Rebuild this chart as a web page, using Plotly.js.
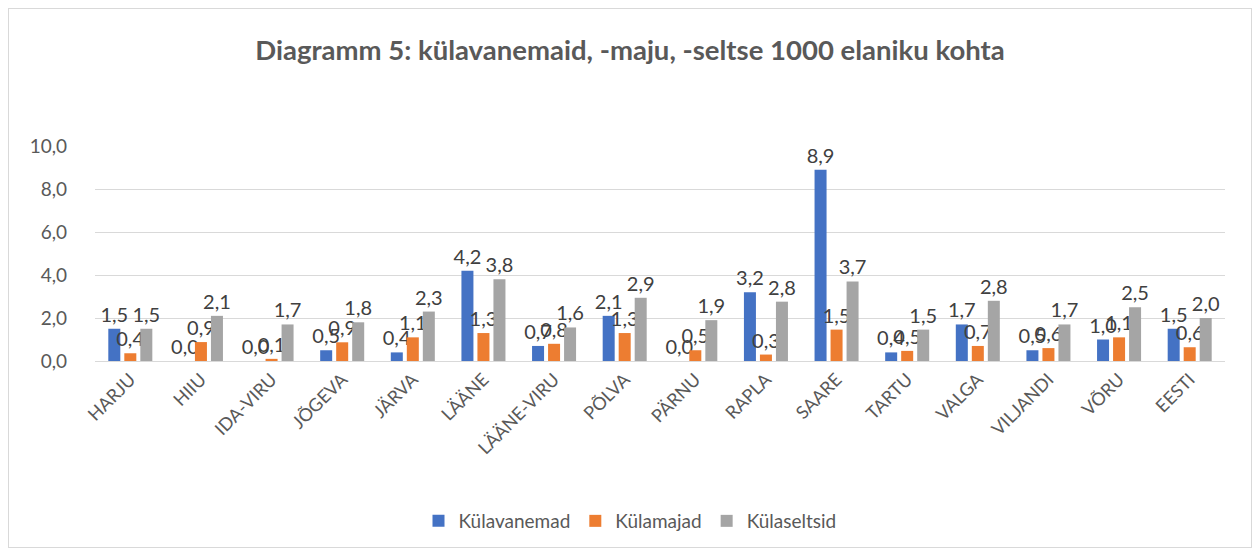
<!DOCTYPE html>
<html>
<head>
<meta charset="utf-8">
<script src="https://cdn.plot.ly/plotly-3.0.1.min.js"></script>
<style>
  html, body { margin: 0; padding: 0; background: #fff; }
  #chart { position: absolute; left: 0; top: 0; width: 1260px; height: 554px; }
  #frame { position: absolute; left: 8px; top: 8px; width: 1242px; height: 538px; border: 1px solid #d9d9d9; pointer-events: none; }
</style>
</head>
<body>
<div id="chart"></div>
<div id="frame"></div>
<script>
const categories = ["HARJU", "HIIU", "IDA-VIRU", "JÕGEVA", "JÄRVA", "LÄÄNE", "LÄÄNE-VIRU", "PÕLVA", "PÄRNU", "RAPLA", "SAARE", "TARTU", "VALGA", "VILJANDI", "VÕRU", "EESTI"];
const kulavanemad = [1.5, 0.0, 0.0, 0.5, 0.4, 4.2, 0.7, 2.1, 0.0, 3.2, 8.9, 0.4, 1.7, 0.5, 1.0, 1.5];
const kulamajad   = [0.36, 0.88, 0.1, 0.87, 1.1, 1.3, 0.8, 1.3, 0.5, 0.3, 1.46, 0.47, 0.7, 0.6, 1.1, 0.64];
const kulaseltsid = [1.5, 2.1, 1.7, 1.8, 2.3, 3.8, 1.56, 2.94, 1.9, 2.76, 3.7, 1.46, 2.8, 1.7, 2.5, 2.0];
const seriesNames = ["Külavanemad", "Külamajad", "Külaseltsid"];
const seriesColors = ["#4472C4", "#ED7D31", "#A5A5A5"];
const tickVals = [0, 2, 4, 6, 8, 10];

const FONT = "Lato, 'Open Sans', sans-serif";
const data = [kulavanemad, kulamajad, kulaseltsid].map((vals, i) => ({
  type: "bar",
  name: seriesNames[i],
  x: categories,
  y: vals,
  marker: { color: seriesColors[i] },
  texttemplate: "%{y:.1f}",
  textposition: "outside",
  constraintext: "none",
  textfont: { family: FONT, size: 20, color: "#404040" },
  cliponaxis: false,
  hoverinfo: "skip"
}));

const layout = {
  width: 1260,
  height: 554,
  separators: ", ",
  paper_bgcolor: "#ffffff",
  plot_bgcolor: "#ffffff",
  font: { family: FONT, color: "#595959" },
  title: {
    text: "<b>Diagramm 5: külavanemaid, -maju, -seltse 1000 elaniku kohta</b>",
    font: { family: FONT, size: 27.5, color: "#595959" },
    x: 0.5, xref: "container", xanchor: "center",
    y: 1 - 50 / 554, yref: "container", yanchor: "middle"
  },
  margin: { l: 95, r: 35, t: 146, b: 193 },
  bargap: 0.32,
  bargroupgap: 0.25,
  showlegend: true,
  legend: {
    orientation: "h",
    x: 0.5, xref: "container", xanchor: "center",
    y: 1 - 521 / 554, yref: "container", yanchor: "middle",
    font: { family: FONT, size: 19, color: "#595959" },
    itemwidth: 30,
    traceorder: "normal"
  },
  xaxis: {
    type: "category",
    tickangle: -45,
    tickfont: { family: FONT, size: 18, color: "#595959" },
    showline: true,
    linecolor: "#d9d9d9",
    linewidth: 1,
    ticks: "",
    showgrid: false,
    automargin: false
  },
  yaxis: {
    range: [0, 10],
    tickvals: tickVals,
    tickformat: ".1f",
    tickfont: { family: FONT, size: 19, color: "#595959" },
    showgrid: true,
    gridcolor: "#d9d9d9",
    gridwidth: 1,
    zeroline: false,
    showline: false,
    ticks: "",
    ticklabelstandoff: 27,
    automargin: false
  }
};

Plotly.newPlot("chart", data, layout, { displayModeBar: false, staticPlot: true });
</script>
</body>
</html>
